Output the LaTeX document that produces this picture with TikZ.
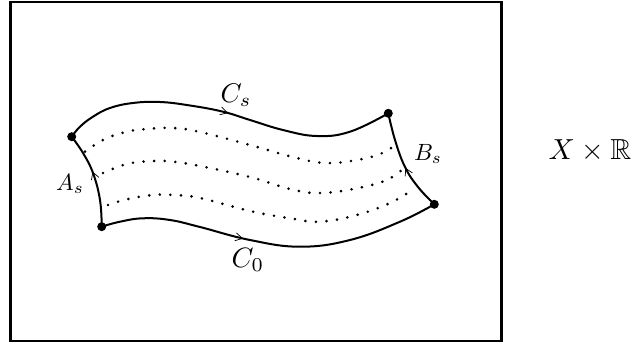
\documentclass[tikz,border=0pt]{standalone}
\usepackage{amssymb}
\usetikzlibrary{arrows.meta,decorations.markings}
\begin{document}
\begin{tikzpicture}[x=1pt,y=-1pt,
  edge/.style={line width=2pt},
  dotrow/.style={line width=2.9pt,line cap=round,dash pattern=on 0pt off 10.6pt},
  corner/.style={circle,fill=black,inner sep=0pt,minimum size=9pt},
  markfwd/.style={postaction={decorate,decoration={markings,mark=at position #1 with {\arrow{Straight Barb[length=7pt,width=8pt,line width=0.7pt]}}}}},
  markbwd/.style={postaction={decorate,decoration={markings,mark=at position #1 with {\arrowreversed{Straight Barb[length=7pt,width=8pt,line width=0.7pt]}}}}},
  lab/.style={inner sep=0pt}]
\useasboundingbox (0,0) rectangle (637,344);
\node[draw,line width=2.6pt,minimum width=491pt,minimum height=339pt,inner sep=0pt] (frame) at (256,171.5) {};
\coordinate (TL) at (71.7,136.7);
\coordinate (BL) at (101.7,226.7);
\coordinate (TR) at (388.3,113.3);
\coordinate (BR) at (434.3,204.3);
% top curve C_s
\draw[edge,markfwd=0.5] plot[smooth,tension=0.7] coordinates {(TL) (80,126.7) (93,116.7) (110,108) (133,103) (160,102) (190,105.5) (223,111.7) (250,120) (283,130) (316.7,136) (350,131.7) (TR)};
% bottom curve C_0
\draw[edge,markfwd=0.42] plot[smooth,tension=0.7] coordinates {(BL) (120,221.7) (143,218.3) (170,220) (200,227) (250,240) (300,246.7) (350,240) (400,221.7) (BR)};
% left A_s
\draw[edge,markbwd=0.42] plot[smooth,tension=0.7] coordinates {(TL) (83,153) (93,173) (100,200) (BL)};
% right B_s
\draw[edge,markbwd=0.55] plot[smooth,tension=0.7] coordinates {(TR) (395,140) (405,167) (418,187) (BR)};
% dotted curves
\draw[dotrow] plot[smooth,tension=0.7] coordinates {(85,151.7) (103,140) (123,132.7) (143,129.3) (173,128) (200,132) (250,145) (296.7,158) (326.7,163) (356.7,160) (380,154) (397,144)};
\draw[dotrow] plot[smooth,tension=0.7] coordinates {(103,173) (127,164) (153,161) (173,161.7) (200,166) (250,177) (290,189) (320,193) (356.7,188.3) (386.7,180) (404,168)};
\draw[dotrow] plot[smooth,tension=0.7] coordinates {(108,205) (127,199.3) (153,195) (173,195) (200,198) (250,211) (290,218.3) (320,221.7) (356.7,215) (390,203) (412,190)};
% corners
\node[corner] (tl) at (TL) {};
\node[corner] (bl) at (BL) {};
\node[corner] (tr) at (TR) {};
\node[corner] (br) at (BR) {};
% labels
\node[lab] (cs) at (236,95) {\scalebox{2.7}{$C_s$}};
\node[lab] (c0) at (248,260) {\scalebox{2.8}{$C_0$}};
\node[lab] (as) at (70,184) {\scalebox{2.35}{$A_s$}};
\node[lab] (bs) at (428,154) {\scalebox{2.35}{$B_s$}};
\node[lab] (xr) at (590,151) {\scalebox{2.9}{$X\times\mathbb{R}$}};
\end{tikzpicture}
\end{document}
